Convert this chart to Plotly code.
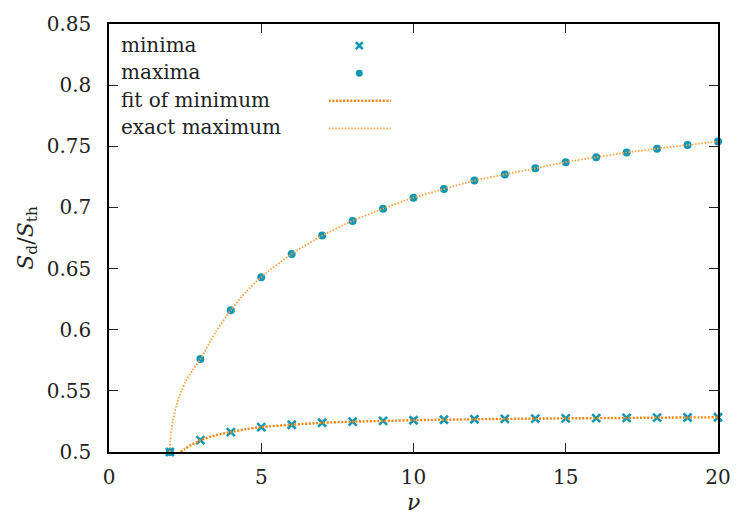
import plotly.graph_objects as go

# ---------------- data ----------------
nu_points = [2, 3, 4, 5, 6, 7, 8, 9, 10, 11, 12, 13, 14, 15, 16, 17, 18, 19, 20]
minima = [0.5, 0.5097, 0.5163, 0.5204, 0.5223, 0.5239, 0.5248, 0.5254, 0.5260,
          0.5264, 0.5268, 0.5271, 0.5273, 0.5275, 0.5277, 0.5279, 0.5281, 0.5282, 0.5284]
maxima = [0.5, 0.576, 0.616, 0.643, 0.662, 0.677, 0.689, 0.699, 0.708,
          0.715, 0.722, 0.727, 0.732, 0.737, 0.741, 0.745, 0.748, 0.751, 0.754]

nu_fit = [2.35, 2.5, 2.7, 2.9, 3.0, 3.5, 4, 4.5, 5, 6, 7, 8, 9, 10, 12, 14, 16, 18, 20]
fit_min = [0.5, 0.5027, 0.5058, 0.5084, 0.5097, 0.5137, 0.5163, 0.5187, 0.5204,
           0.5223, 0.5239, 0.5248, 0.5254, 0.5260, 0.5268, 0.5273, 0.5277, 0.5281, 0.5284]

nu_exact = [2.0, 2.01, 2.03, 2.06, 2.1, 2.2, 2.3, 2.4, 2.5, 2.75, 3.0, 3.5, 4, 4.5,
            5, 6, 7, 8, 9, 10, 11, 12, 13, 14, 15, 16, 17, 18, 19, 20]
exact_max = [0.5, 0.508, 0.514, 0.520, 0.526, 0.537, 0.545, 0.551, 0.557, 0.567,
             0.576, 0.598, 0.616, 0.631, 0.643, 0.662, 0.677, 0.689, 0.699, 0.708,
             0.715, 0.722, 0.727, 0.732, 0.737, 0.741, 0.745, 0.748, 0.751, 0.754]

x_ticks = [0, 5, 10, 15, 20]
y_ticks = [0.5, 0.55, 0.6, 0.65, 0.7, 0.75, 0.8, 0.85]
y_tick_labels = ["0.5", "0.55", "0.6", "0.65", "0.7", "0.75", "0.8", "0.85"]
legend_labels = ["minima", "maxima", "fit of minimum", "exact maximum"]

# ---------------- styles ----------------
FONT = "DejaVu Serif"
TEAL = "#0b97b3"
ORANGE = "#f8840f"
ORANGE_LIGHT = "#ffa24a"
TXT = "#222222"

fig = go.Figure()
fig.add_trace(go.Scatter(x=nu_points, y=minima, mode="markers", name=legend_labels[0],
                         marker=dict(symbol="x-thin", size=8, color=TEAL,
                                     line=dict(width=2.6, color=TEAL)),
                         cliponaxis=False))
fig.add_trace(go.Scatter(x=nu_points, y=maxima, mode="markers", name=legend_labels[1],
                         marker=dict(symbol="circle", size=8, color=TEAL),
                         cliponaxis=False))
fig.add_trace(go.Scatter(x=nu_fit, y=fit_min, mode="lines", name=legend_labels[2],
                         line=dict(color=ORANGE, width=2.4, dash="2px,1.6px", shape="spline",
                                   smoothing=0.8)))
fig.add_trace(go.Scatter(x=nu_exact, y=exact_max, mode="lines", name=legend_labels[3],
                         line=dict(color=ORANGE_LIGHT, width=1.8, dash="1.6px,1.6px",
                                   shape="spline", smoothing=0.6)))

# plot area in pixels
W, H = 743, 516
L, R, T, B = 109, 16, 17, 64
pw, ph = W - L - R, H - T - B


def px(x):
    return (x - L) / pw


def py(y):
    return (H - B - y) / ph


# manual gnuplot-style legend (text left, sample right)
shapes = []
annotations = []
rows = [38, 66, 94, 122]
for lab, yy in zip(legend_labels, rows):
    annotations.append(dict(xref="paper", yref="paper", x=px(119), y=py(yy),
                            xanchor="left", yanchor="middle", showarrow=False,
                            text=lab, font=dict(family=FONT, size=20, color=TXT)))
# x marker sample
cx, cy, r = 363, 39, 3.5
shapes.append(dict(type="line", xref="paper", yref="paper", x0=px(cx - r), y0=py(cy - r),
                   x1=px(cx + r), y1=py(cy + r), line=dict(color=TEAL, width=2.6)))
shapes.append(dict(type="line", xref="paper", yref="paper", x0=px(cx - r), y0=py(cy + r),
                   x1=px(cx + r), y1=py(cy - r), line=dict(color=TEAL, width=2.6)))
# dot sample
cy2, rd = 67, 3.5
shapes.append(dict(type="circle", xref="paper", yref="paper", x0=px(cx - rd), y0=py(cy2 - rd),
                   x1=px(cx + rd), y1=py(cy2 + rd), fillcolor=TEAL, line=dict(width=0)))
# line samples
shapes.append(dict(type="line", xref="paper", yref="paper", x0=px(332), y0=py(95),
                   x1=px(395), y1=py(95), line=dict(color=ORANGE, width=2.4, dash="2px,1.6px")))
shapes.append(dict(type="line", xref="paper", yref="paper", x0=px(332), y0=py(123),
                   x1=px(395), y1=py(123),
                   line=dict(color=ORANGE_LIGHT, width=1.8, dash="1.6px,1.6px")))

# axis titles
annotations.append(dict(xref="paper", yref="paper", x=px(26), y=py(234), textangle=-90,
                        xanchor="center", yanchor="middle", showarrow=False,
                        text="<i>S</i><sub>d</sub>/<i>S</i><sub>th</sub>",
                        font=dict(family=FONT, size=22, color=TXT)))
annotations.append(dict(xref="paper", yref="paper", x=px(418), y=py(503),
                        xanchor="center", yanchor="middle", showarrow=False,
                        text="<i>ν</i>", font=dict(family=FONT, size=22, color=TXT)))

axis_common = dict(showgrid=False, zeroline=False, showline=True, linecolor="black",
                   linewidth=1.5, mirror="allticks", ticks="inside", ticklen=9,
                   tickwidth=1.2, tickcolor=TXT,
                   tickfont=dict(family=FONT, size=20, color=TXT))

fig.update_layout(
    width=W, height=H,
    margin=dict(l=L, r=R, t=T, b=B, pad=0),
    paper_bgcolor="white", plot_bgcolor="white",
    showlegend=False,
    xaxis=dict(range=[0, 20], tickvals=x_ticks, ticktext=[str(v) for v in x_ticks],
               ticklabelstandoff=6, **axis_common),
    yaxis=dict(range=[0.5, 0.85], tickvals=y_ticks, ticktext=y_tick_labels,
               ticklabelstandoff=12, **axis_common),
    shapes=shapes,
    annotations=annotations,
)

fig.write_html("out.html")
